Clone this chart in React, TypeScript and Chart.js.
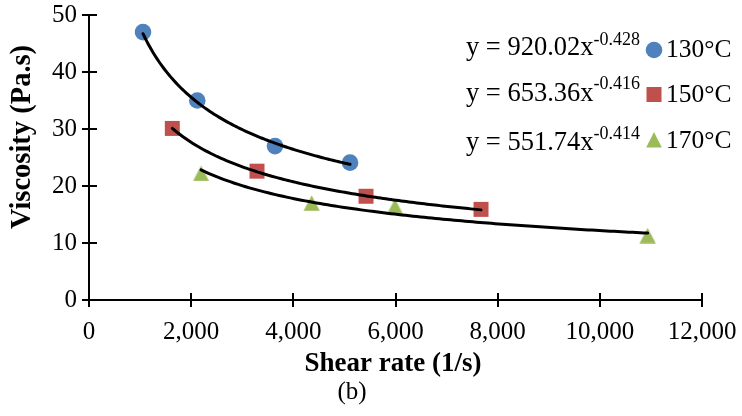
import React, { useEffect, useRef } from 'react';
import { Chart, registerables } from 'chart.js';

Chart.register(...registerables);

// ---- data ----
const shear130 = [1057, 2120, 3641, 5110];
const visc130 = [47.0, 35.0, 27.0, 24.1];
const shear150 = [1631, 3289, 5423, 7674];
const visc150 = [30.1, 22.6, 18.2, 15.9];
const shear170 = [2193, 4359, 5990, 10936];
const visc170 = [22.2, 17.0, 16.4, 11.3];

const seriesLabels = ['130°C', '150°C', '170°C'];
const seriesColors = ['#4F81BD', '#C0504D', '#9BBB59'];
const seriesStyles = ['circle', 'rect', 'triangle'];

// power-law trendlines shown in the chart: y = a * x^b
const fitCoefficients = [920.02, 653.36, 551.74];
const fitExponents = [-0.428, -0.416, -0.414];
const fitEquationMain = ['y = 920.02x', 'y = 653.36x', 'y = 551.74x'];
const fitEquationExp = ['-0.428', '-0.416', '-0.414'];

const xTickValues = [0, 2000, 4000, 6000, 8000, 10000, 12000];
const yTickValues = [0, 10, 20, 30, 40, 50];

const xTitle = 'Shear rate (1/s)';
const yTitle = 'Viscosity (Pa.s)';
const caption = '(b)';

const SERIF = '"Liberation Serif", "Times New Roman", serif';

const shearSets = [shear130, shear150, shear170];
const viscSets = [visc130, visc150, visc170];

function drawMarker(ctx: CanvasRenderingContext2D, style: string, x: number, y: number, color: string) {
  ctx.save();
  ctx.fillStyle = color;
  ctx.beginPath();
  if (style === 'circle') {
    ctx.arc(x, y, 8.3, 0, Math.PI * 2);
  } else if (style === 'rect') {
    ctx.rect(x - 7.5, y - 7.5, 15, 15);
  } else {
    ctx.moveTo(x, y - 8);
    ctx.lineTo(x + 7.8, y + 7.5);
    ctx.lineTo(x - 7.8, y + 7.5);
    ctx.closePath();
  }
  ctx.fill();
  ctx.restore();
}

function makeTriangleImage(color: string): HTMLCanvasElement {
  const c = document.createElement('canvas');
  c.width = 17;
  c.height = 16;
  const g = c.getContext('2d')!;
  g.fillStyle = color;
  g.beginPath();
  g.moveTo(8.5, 0.3);
  g.lineTo(16.6, 15.7);
  g.lineTo(0.4, 15.7);
  g.closePath();
  g.fill();
  return c;
}

const decorPlugin = {
  id: 'decor',
  afterDatasetsDraw(chart: any) {
    const ctx: CanvasRenderingContext2D = chart.ctx;
    const xs = chart.scales.x;
    const ys = chart.scales.y;
    const area = chart.chartArea;
    // trendlines
    ctx.save();
    ctx.beginPath();
    ctx.rect(area.left, area.top, area.right - area.left, area.bottom - area.top);
    ctx.clip();
    ctx.strokeStyle = '#000';
    ctx.lineWidth = 3;
    ctx.lineCap = 'round';
    for (let i = 0; i < fitCoefficients.length; i++) {
      const xsData = shearSets[i];
      const x0 = Math.min(...xsData);
      const x1 = Math.max(...xsData);
      ctx.beginPath();
      const n = 120;
      for (let k = 0; k <= n; k++) {
        const xv = x0 + ((x1 - x0) * k) / n;
        const yv = fitCoefficients[i] * Math.pow(xv, fitExponents[i]);
        const px = xs.getPixelForValue(xv);
        const py = ys.getPixelForValue(yv);
        if (k === 0) ctx.moveTo(px, py);
        else ctx.lineTo(px, py);
      }
      ctx.stroke();
    }
    ctx.restore();
  },
  afterDraw(chart: any) {
    const ctx: CanvasRenderingContext2D = chart.ctx;
    const xs = chart.scales.x;
    const ys = chart.scales.y;
    const area = chart.chartArea;
    // inner halves of crossing tick marks
    ctx.save();
    ctx.strokeStyle = '#000';
    ctx.lineWidth = 2;
    for (const v of xTickValues) {
      const px = Math.round(xs.getPixelForValue(v));
      ctx.beginPath();
      ctx.moveTo(px, area.bottom);
      ctx.lineTo(px, area.bottom - 7);
      ctx.stroke();
    }
    for (const v of yTickValues) {
      const py = Math.round(ys.getPixelForValue(v));
      ctx.beginPath();
      ctx.moveTo(area.left, py);
      ctx.lineTo(area.left + 8, py);
      ctx.stroke();
    }
    ctx.restore();

    // legend with fitted equations
    const markerX = 654;
    const markerY = [50, 94.5, 140];
    const labelBase = [56.5, 101.5, 148];
    const eqBase = [55, 100.5, 150];
    const supBase = [45, 89, 139];
    const eqRight = 640;
    ctx.save();
    ctx.fillStyle = '#000';
    for (let i = 0; i < seriesLabels.length; i++) {
      drawMarker(ctx, seriesStyles[i], markerX, markerY[i], seriesColors[i]);
      ctx.fillStyle = '#000';
      ctx.font = `25.5px ${SERIF}`;
      ctx.textAlign = 'left';
      ctx.textBaseline = 'alphabetic';
      ctx.fillText(seriesLabels[i], 666, labelBase[i]);
      ctx.font = `18px ${SERIF}`;
      const supW = ctx.measureText(fitEquationExp[i]).width;
      ctx.textAlign = 'right';
      ctx.fillText(fitEquationExp[i], eqRight, supBase[i]);
      ctx.font = `26.5px ${SERIF}`;
      ctx.fillText(fitEquationMain[i], eqRight - supW, eqBase[i]);
    }
    ctx.restore();

    // axis titles and caption
    ctx.save();
    ctx.fillStyle = '#000';
    ctx.textAlign = 'center';
    ctx.textBaseline = 'middle';
    ctx.font = `bold 27px ${SERIF}`;
    ctx.fillText(xTitle, 393, 364);
    ctx.font = `25px ${SERIF}`;
    ctx.fillText(caption, 352, 392);
    ctx.translate(23, 137);
    ctx.rotate(-Math.PI / 2);
    ctx.font = `bold 28.5px ${SERIF}`;
    ctx.fillText(yTitle, 0, 0);
    ctx.restore();
  },
};

export default function App() {
  const canvasRef = useRef<HTMLCanvasElement | null>(null);

  useEffect(() => {
    const canvas = canvasRef.current;
    if (!canvas) return;
    const triangleImage = makeTriangleImage(seriesColors[2]);
    const radii = [8.3, 10.6, 9.3];
    const datasets = seriesLabels.map((label, i) => ({
      label,
      data: shearSets[i].map((x, j) => ({ x, y: viscSets[i][j] })),
      showLine: false,
      pointStyle: seriesStyles[i] === 'triangle' ? triangleImage : seriesStyles[i],
      pointRadius: radii[i],
      pointHoverRadius: radii[i],
      pointBorderWidth: 0,
      backgroundColor: seriesColors[i],
      borderColor: seriesColors[i],
    }));

    const chart = new Chart(canvas, {
      type: 'scatter',
      data: { datasets },
      plugins: [decorPlugin],
      options: {
        animation: false,
        responsive: false,
        devicePixelRatio: 1,
        layout: { padding: { top: 15, right: 40, bottom: 0, left: 0 } },
        plugins: {
          legend: { display: false },
          tooltip: { enabled: false },
          title: { display: false },
        },
        scales: {
          x: {
            type: 'linear',
            min: 0,
            max: 12000,
            afterBuildTicks: (scale: any) => {
              scale.ticks = xTickValues.map((v) => ({ value: v }));
            },
            afterFit: (scale: any) => {
              scale.height = 116;
              scale.paddingLeft = 0;
              scale.paddingRight = 0;
            },
            ticks: {
              color: '#000',
              padding: 10,
              maxRotation: 0,
              font: { family: SERIF, size: 25 },
              callback: (v: any) => Number(v).toLocaleString('en-US'),
            },
            grid: {
              drawOnChartArea: false,
              drawTicks: true,
              tickLength: 7,
              color: '#000',
              lineWidth: 2,
            },
            border: { display: true, color: '#000', width: 2 },
          },
          y: {
            type: 'linear',
            min: 0,
            max: 50,
            afterBuildTicks: (scale: any) => {
              scale.ticks = yTickValues.map((v) => ({ value: v }));
            },
            afterFit: (scale: any) => {
              scale.width = 89;
              scale.paddingTop = 0;
              scale.paddingBottom = 0;
            },
            ticks: {
              color: '#000',
              padding: 5,
              font: { family: SERIF, size: 25 },
              callback: (v: any) => String(v),
            },
            grid: {
              drawOnChartArea: false,
              drawTicks: true,
              tickLength: 7,
              color: '#000',
              lineWidth: 2,
            },
            border: { display: true, color: '#000', width: 2 },
          },
        },
      },
    } as any);

    return () => {
      chart.destroy();
    };
  }, []);

  return (
    <div style={{ position: 'absolute', left: 0, top: 0, width: 742, height: 416, background: '#fff' }}>
      <canvas ref={canvasRef} width={742} height={416} style={{ display: 'block', width: 742, height: 416 }} />
    </div>
  );
}
